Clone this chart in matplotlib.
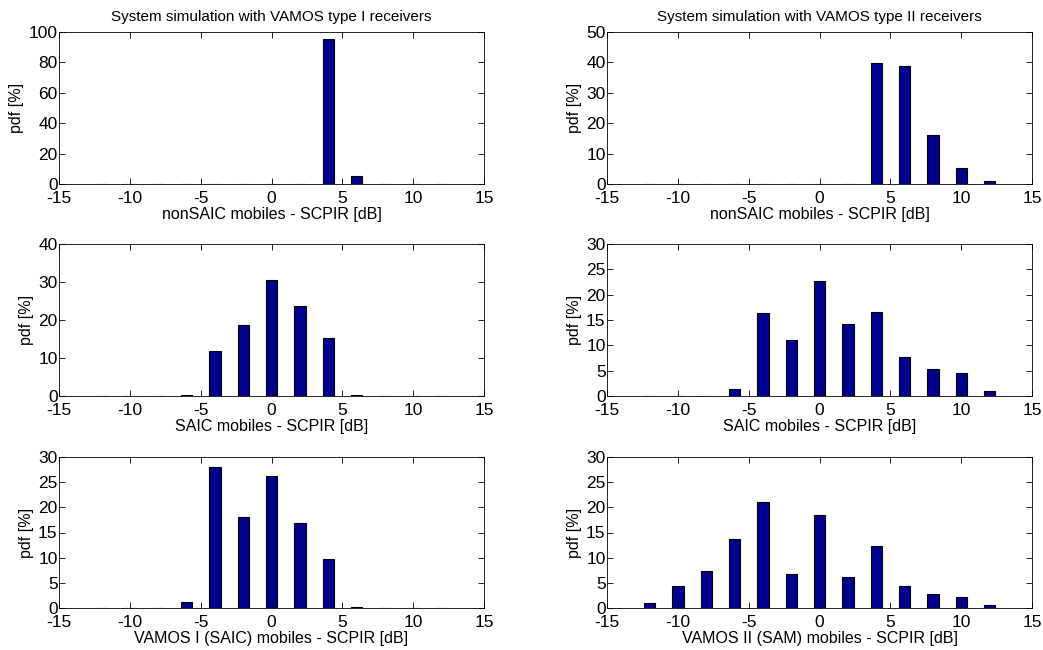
import numpy as np
import matplotlib.pyplot as plt

plt.rcParams['font.family'] = ['Liberation Sans', 'DejaVu Sans']
plt.rcParams['axes.unicode_minus'] = False

# SCPIR bins [dB] and pdf values [%]
x_bins = [-12, -10, -8, -6, -4, -2, 0, 2, 4, 6, 8, 10, 12]

nonsaic_I = [0, 0, 0, 0, 0, 0, 0, 0, 95.3, 5.2, 0, 0, 0]
saic_I = [0, 0, 0, 0.2, 11.8, 18.6, 30.6, 23.6, 15.3, 0.2, 0, 0, 0]
vamos_I = [0, 0, 0, 1.2, 28.0, 18.0, 26.2, 16.9, 9.7, 0.15, 0, 0, 0]

nonsaic_II = [0, 0, 0, 0, 0, 0, 0, 0, 39.7, 38.7, 16.1, 5.3, 1.0]
saic_II = [0, 0, 0, 1.45, 16.3, 11.1, 22.6, 14.2, 16.6, 7.6, 5.3, 4.5, 1.0]
vamos_II = [1.0, 4.4, 7.3, 13.8, 21.0, 6.8, 18.4, 6.1, 12.4, 4.4, 2.8, 2.2, 0.5]

titles = ['System simulation with VAMOS type I receivers',
          'System simulation with VAMOS type II receivers']
xlabels = [['nonSAIC mobiles - SCPIR [dB]', 'SAIC mobiles - SCPIR [dB]',
            'VAMOS I (SAIC) mobiles - SCPIR [dB]'],
           ['nonSAIC mobiles - SCPIR [dB]', 'SAIC mobiles - SCPIR [dB]',
            'VAMOS II (SAM) mobiles - SCPIR [dB]']]
data = [[nonsaic_I, saic_I, vamos_I], [nonsaic_II, saic_II, vamos_II]]
ylims = [[100, 40, 30], [50, 30, 30]]
ysteps = [[20, 10, 5], [10, 5, 5]]

W, H = 1043, 650
fig = plt.figure(figsize=(W / 100, H / 100), dpi=100)

# axes boxes in pixels: (left, right) per column, (top, bottom) per row
cols = [(59, 484), (607, 1032)]
rows = [(32, 184), (244, 396), (457, 608)]

for c in range(2):
    for r in range(3):
        l, rr = cols[c]
        t, b = rows[r]
        ax = fig.add_axes([l / W, 1 - b / H, (rr - l) / W, (b - t) / H])
        ax.bar(x_bins, data[c][r], width=0.8, color='#00008f',
               edgecolor='black', linewidth=0.8)
        ax.set_xlim(-15, 15)
        ax.set_ylim(0, ylims[c][r])
        ax.set_xticks(np.arange(-15, 16, 5))
        ax.set_yticks(np.arange(0, ylims[c][r] + 1, ysteps[c][r]))
        ax.tick_params(direction='in', top=True, right=True, labelsize=12.5,
                       length=4, width=0.6)
        ax.tick_params(axis='x', pad=5)
        ax.tick_params(axis='y', pad=1)
        for s in ax.spines.values():
            s.set_linewidth(0.6)
        ax.set_xlabel(xlabels[c][r], fontsize=11.5, labelpad=1)
        ax.set_ylabel('pdf [%]', fontsize=11.5, labelpad=3)
        if r == 0:
            ax.set_title(titles[c], fontsize=11, pad=8)

fig.savefig('out.png', dpi=100)
